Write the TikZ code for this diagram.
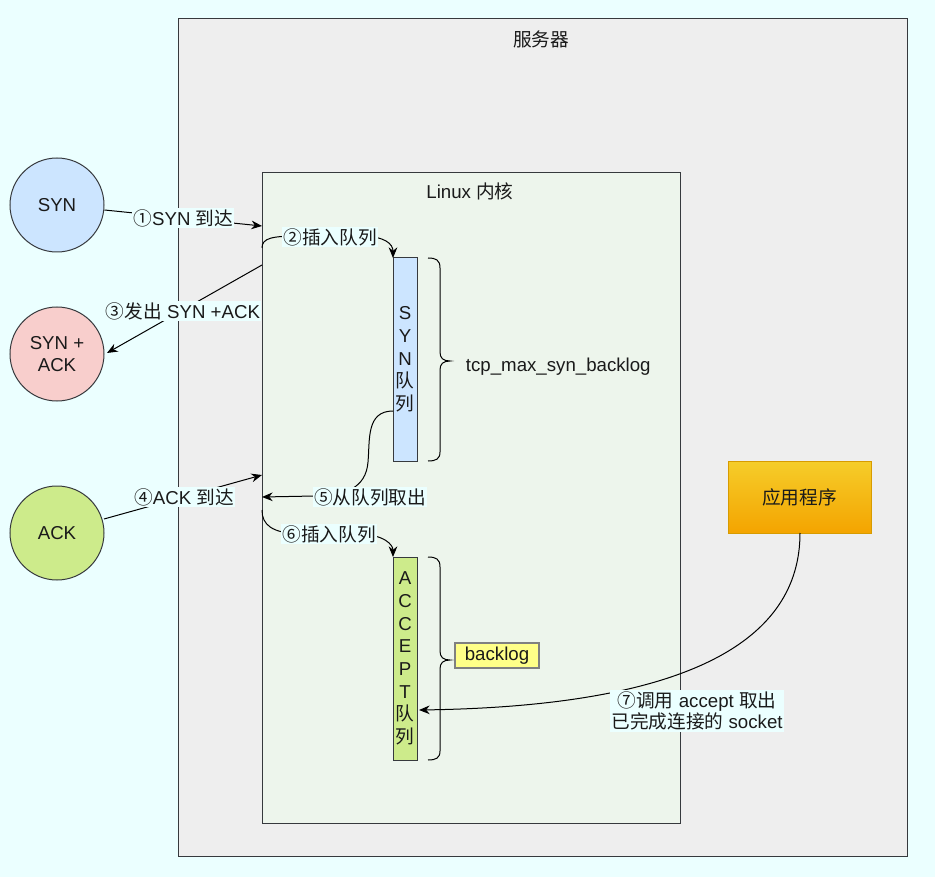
\documentclass[tikz,border=0pt]{standalone}
\usepackage{fontspec}
\setmainfont{Liberation Sans}
\newfontfamily\cjk{Noto Sans CJK SC}
\usetikzlibrary{arrows.meta}
\definecolor{canvas}{HTML}{EBFFFF}
\definecolor{servfill}{HTML}{EEEEEE}
\definecolor{kernfill}{HTML}{EDF5EC}
\definecolor{edge}{HTML}{36393D}
\definecolor{blue1}{HTML}{CCE5FF}
\definecolor{red1}{HTML}{F8CECC}
\definecolor{green1}{HTML}{CDEB8B}
\definecolor{apptop}{HTML}{F5CD2A}
\definecolor{appbot}{HTML}{F4A400}
\definecolor{appedge}{HTML}{D79B00}
\definecolor{yel}{HTML}{FFFF88}
\definecolor{txt}{HTML}{1A1A1A}
\begin{document}
\begin{tikzpicture}[x=0.75pt,y=-0.75pt,
  font=\fontsize{14}{17}\selectfont, text=txt, line width=0.75pt,
  bigbox/.style={draw=edge, anchor=north west, inner sep=0pt},
  circ/.style={circle, draw=edge, minimum size=70.5pt, inner sep=0pt, align=center},
  queue/.style={draw=edge, minimum width=18pt, minimum height=152.25pt, inner sep=0pt, align=center, font=\fontsize{14}{17}\selectfont},
  lbl/.style={fill=canvas, inner sep=1pt, align=center},
  arr/.style={draw=black, -{Stealth[length=8pt,width=6.5pt]}},
  brc/.style={draw=black, line width=0.75pt}
]
\useasboundingbox (0,0) rectangle (935,877);
\fill[canvas] (0,0) rectangle (935,877);

% boxes
\node[bigbox, fill=servfill, minimum width=546.75pt, minimum height=628.5pt] (server) at (178,18) {};
\node (servlbl) at (541,39) {\cjk 服务器};
\node[bigbox, fill=kernfill, minimum width=313.5pt, minimum height=488.25pt] (kernel) at (262,172) {};
\node (kernlbl) at (470,191) {Linux {\cjk 内核}};

% circles
\node[circ, fill=blue1] (syn) at (57,205) {SYN};
\node[circ, fill=red1] (synack) at (57,354) {SYN +\\ACK};
\node[circ, fill=green1] (ack) at (57,533) {ACK};

% queues
\node[queue, fill=blue1] (synq) at (405,359.5) {S\\Y\\N\\{\cjk 队}\\{\cjk 列}};
\node[queue, fill=green1] (accq) at (405,658.5) {A\\C\\C\\E\\P\\T\\{\cjk 队}\\{\cjk 列}};

% app
\node[draw=appedge, top color=apptop, bottom color=appbot, minimum width=107.25pt, minimum height=54pt, inner sep=0pt] (app) at (799.5,497) {\cjk 应用程序};

% braces
\draw[brc] (428,258) .. controls (436,258) and (440,260) .. (440,268) -- (440,352)
  .. controls (440,358) and (443,361) .. (450,361)
  .. controls (443,361) and (440,364) .. (440,370) -- (440,452)
  .. controls (440,459) and (436,461) .. (428,461);
\node[anchor=west] (synbl) at (461,367) {tcp\_max\_syn\_backlog};
\draw[brc] (428,557) .. controls (436,557) and (440,559) .. (440,567) -- (440,651)
  .. controls (440,657) and (443,660) .. (450,660)
  .. controls (443,660) and (440,663) .. (440,669) -- (440,751)
  .. controls (440,758) and (436,760) .. (428,760);
\node[draw=black!50, line width=1.5pt, fill=yel, minimum width=63pt, minimum height=18.75pt, inner sep=0pt] (backlog) at (497,655.5) {backlog};

% coordinates on kernel edge
\coordinate (k1) at (262,226);
\coordinate (k2) at (262,248);
\coordinate (k3) at (262,265);
\coordinate (k4) at (262,475);
\coordinate (k5) at (262,497);
\coordinate (k6) at (262,510);
\coordinate (q2) at (393,258);
\coordinate (q5) at (393,411);
\coordinate (q6) at (393,557);
\coordinate (q7) at (419,710);
\coordinate (a7) at (800,533);

% connectors
\draw[arr] (syn.east) ++(0,5) -- (k1) node[lbl, pos=0.5] {{\cjk ①}SYN {\cjk 到达}};
\draw[arr] (k2) .. controls (262,238) and (272,236) .. (300,236) -- (360,236)
  .. controls (385,236) and (393,244) .. (q2);
\node[lbl] at (330,237) {\cjk ②插入队列};
\draw[arr] (k3) -- (107,353);
\node[lbl] at (183,311) {{\cjk ③发出} SYN +ACK};
\draw[arr] (104,519) -- (k4);
\node[lbl] at (184,497) {{\cjk ④}ACK {\cjk 到达}};
\draw[arr] (q5) .. controls (366,411) and (370,440) .. (368,462)
  .. controls (366,488) and (345,496) .. (315,496) -- (k5);
\node[lbl] at (370,497) {\cjk ⑤从队列取出};
\draw[arr] (k6) .. controls (262,525) and (272,533) .. (300,534) -- (360,534)
  .. controls (385,535) and (393,545) .. (q6);
\node[lbl] at (329,534) {\cjk ⑥插入队列};
\draw[arr] (a7) .. controls (800,640) and (690,706) .. (q7);
\node[lbl, font=\fontsize{14}{16}\selectfont] at (697,711) {{\cjk ⑦调用} accept {\cjk 取出}\\{\cjk 已完成连接的} socket};
\end{tikzpicture}
\end{document}
